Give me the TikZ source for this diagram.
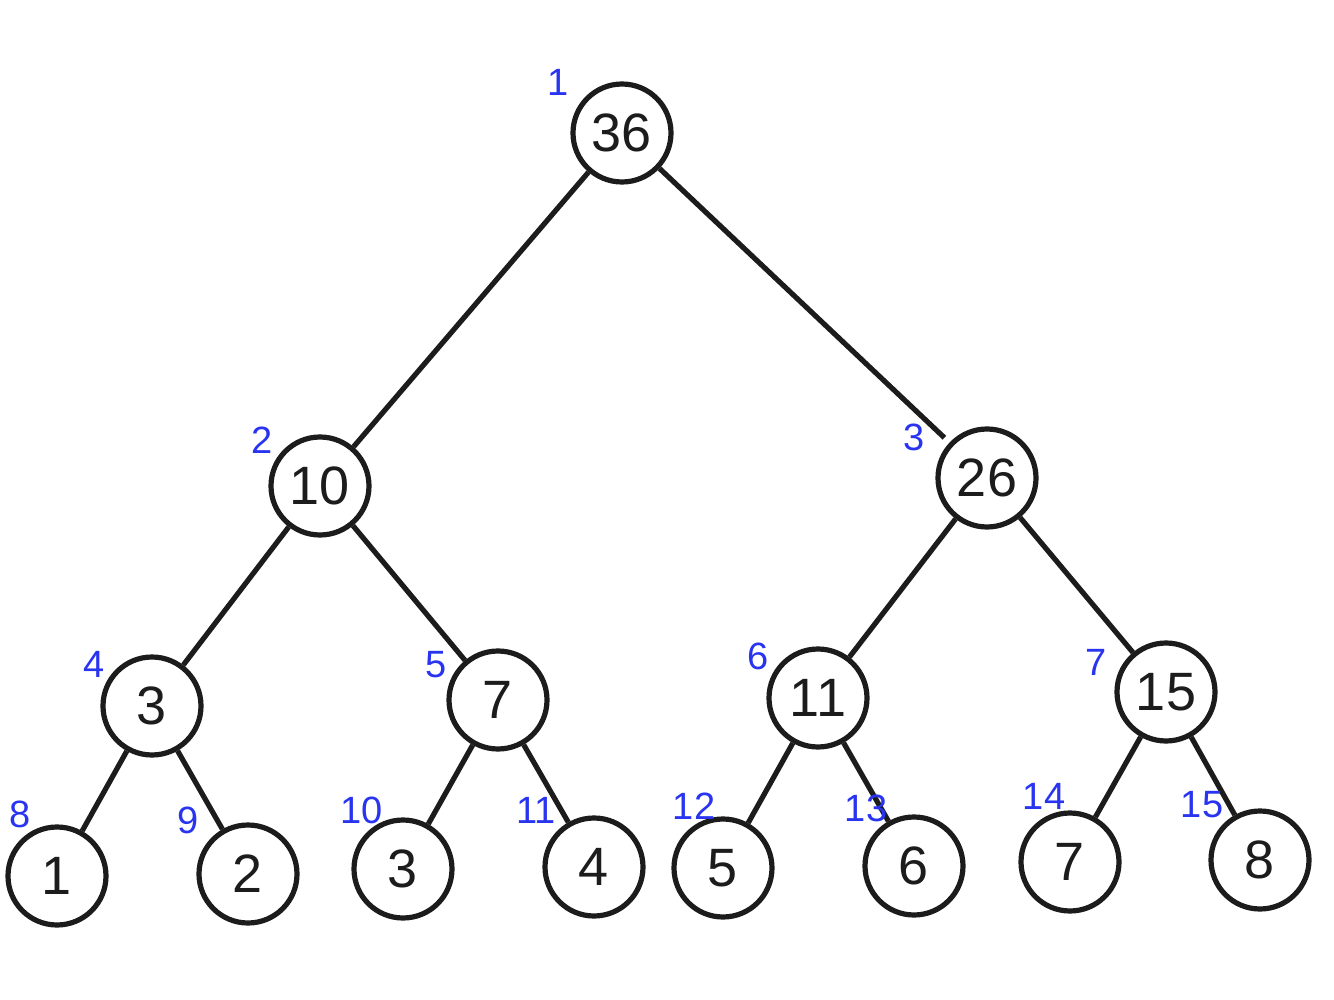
\documentclass[tikz,border=0pt]{standalone}
\usepackage{fontspec}
\setmainfont{Liberation Sans}
\definecolor{ink}{RGB}{28,28,28}
\definecolor{idx}{RGB}{40,52,240}
\begin{document}
\begin{tikzpicture}[x=0.5pt,y=-0.5pt,
  tnode/.style={circle,draw=ink,line width=2.6pt,fill=white,minimum size=49pt,inner sep=0pt,font=\fontsize{27}{30}\selectfont,text=ink},
  lbl/.style={text=idx,font=\fontsize{19}{21}\selectfont,inner sep=0pt},
  edge/.style={draw=ink,line width=2.6pt}]
\useasboundingbox (0,0) rectangle (1334,1000);
\fill[white] (0,0) rectangle (1334,1000);
% nodes
\node[tnode] (n1) at (622,133) {36};
\node[tnode] (n2) at (320,486) {10};
\node[tnode] (n3) at (987,478) {26};
\node[tnode] (n4) at (152,706) {3};
\node[tnode] (n5) at (498,700) {7};
\node[tnode] (n6) at (818,698) {11};
\node[tnode] (n7) at (1166,692) {15};
\node[tnode] (n8) at (57,876) {1};
\node[tnode] (n9) at (248,874) {2};
\node[tnode] (n10) at (403,869) {3};
\node[tnode] (n11) at (594,867) {4};
\node[tnode] (n12) at (723,868) {5};
\node[tnode] (n13) at (914,866) {6};
\node[tnode] (n14) at (1070,862) {7};
\node[tnode] (n15) at (1260,860) {8};
% edges
\draw[edge] (n1) -- (n2);
\draw[edge,shorten >=3.5pt] (n1) -- (n3);
\draw[edge] (n2) -- (n4);
\draw[edge] (n2) -- (n5);
\draw[edge] (n3) -- (n6);
\draw[edge] (n3) -- (n7);
\draw[edge] (n4) -- (n8);
\draw[edge] (n4) -- (n9);
\draw[edge] (n5) -- (n10);
\draw[edge] (n5) -- (n11);
\draw[edge] (n6) -- (n12);
\draw[edge] (n6) -- (n13);
\draw[edge] (n7) -- (n14);
\draw[edge] (n7) -- (n15);
% index labels
\node[lbl] (l1) at (558,82) {1};
\node[lbl] (l2) at (262,440) {2};
\node[lbl] (l3) at (914,437) {3};
\node[lbl] (l4) at (94,664) {4};
\node[lbl] (l5) at (436,665) {5};
\node[lbl] (l6) at (758,656) {6};
\node[lbl] (l7) at (1096,662) {7};
\node[lbl] (l8) at (20,814) {8};
\node[lbl] (l9) at (188,820) {9};
\node[lbl] (l10) at (362,810) {10};
\node[lbl] (l11) at (536,810) {11};
\node[lbl] (l12) at (694,806) {12};
\node[lbl] (l13) at (866,808) {13};
\node[lbl] (l14) at (1044,796) {14};
\node[lbl] (l15) at (1202,805) {15};
\end{tikzpicture}
\end{document}
